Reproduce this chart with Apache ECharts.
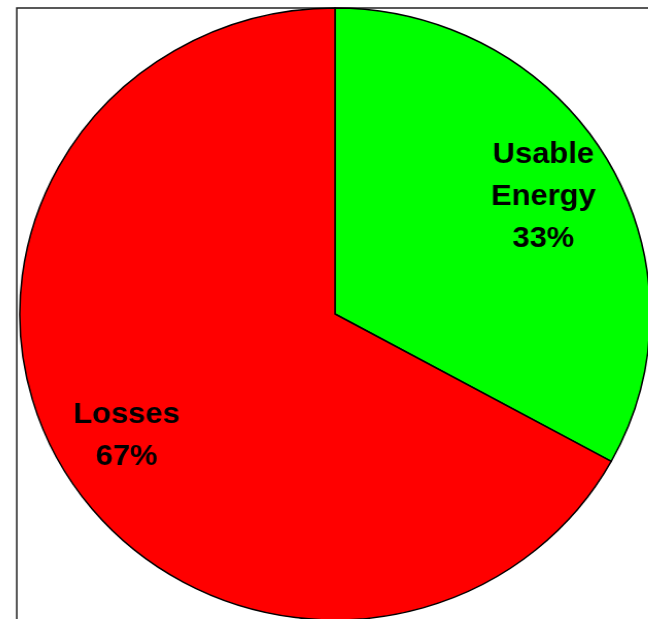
<!DOCTYPE html>
<html>
<head>
<meta charset="utf-8">
<script src="https://cdn.jsdelivr.net/npm/echarts@6/dist/echarts.min.js"></script>
<style>
html, body { margin: 0; padding: 0; background: #fff; overflow: hidden; }
#chart { width: 648px; height: 619px; transform: scaleX(1.03); transform-origin: 335px 0; }
</style>
</head>
<body>
<div id="chart"></div>
<script>
const categories = ['Usable Energy', 'Losses'];
const values = [33, 67];
const colors = ['#00ff00', '#ff0000'];

const data = categories.map((name, i) => ({ name: name, value: values[i], itemStyle: { color: colors[i] } }));

const chart = echarts.init(document.getElementById('chart'), null, { renderer: 'canvas' });
chart.setOption({
  animation: false,
  backgroundColor: '#ffffff',
  graphic: [{
    type: 'rect',
    z: -10,
    shape: { x: 26, y: 8, width: 1000, height: 1000 },
    style: { fill: 'none', stroke: '#222', lineWidth: 1.5 }
  }],
  series: [
    {
      type: 'pie',
      center: [335, 314],
      radius: [0, 306],
      startAngle: 90,
      clockwise: true,
      silent: true,
      data: data,
      itemStyle: { borderColor: '#000', borderWidth: 1.5 },
      label: { show: false },
      labelLine: { show: false },
      emphasis: { disabled: true }
    },
    {
      type: 'pie',
      center: [335, 316],
      radius: [196, 268],
      startAngle: 90,
      clockwise: true,
      silent: true,
      data: categories.map((name, i) => ({ name: name, value: values[i] })),
      itemStyle: { color: 'rgba(0,0,0,0)', borderWidth: 0 },
      label: {
        show: true,
        position: 'inside',
        formatter: p => p.name.replace(' ', '\n') + '\n' + p.value + '%',
        color: '#000',
        fontFamily: 'Liberation Sans, Arial, sans-serif',
        fontWeight: 'bold',
        fontSize: 30,
        lineHeight: 42,
        align: 'center'
      },
      labelLine: { show: false },
      emphasis: { disabled: true }
    }
  ]
});
</script>
</body>
</html>
